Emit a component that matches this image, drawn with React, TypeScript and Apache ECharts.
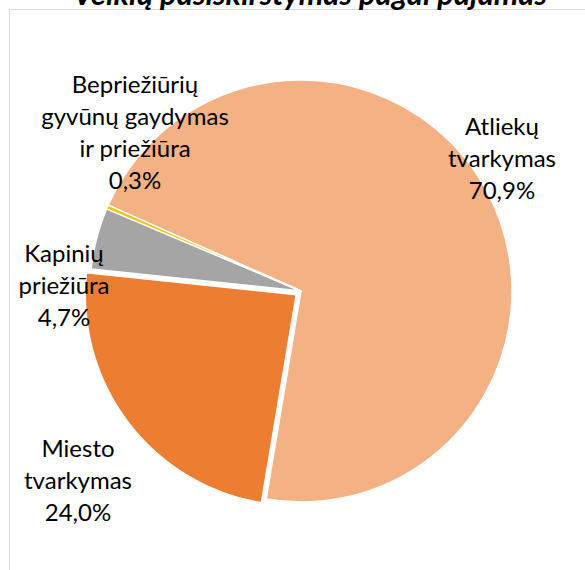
import React, { useEffect, useRef } from "react";
import * as echarts from "echarts";

const TITLE = "Veiklų pasiskirstymas pagal pajamas";
const CATEGORIES = [
  "Atliekų tvarkymas",
  "Miesto tvarkymas",
  "Kapinių priežiūra",
  "Bepriežiūrių gyvūnų gaydymas ir priežiūra",
];
const LABEL_LINES = [
  "Atliekų\ntvarkymas",
  "Miesto\ntvarkymas",
  "Kapinių\npriežiūra",
  "Bepriežiūrių\ngyvūnų gaydymas\nir priežiūra",
];
const PERCENTS = [70.9, 24.0, 4.7, 0.3];
const COLORS = ["#F4B183", "#ED7D31", "#A5A5A5", "#FFC000"];
const EXPLODED = [false, true, false, false];

// label anchor centres (x, y) in px
const LABEL_POS: [number, number][] = [
  [502, 157],
  [78, 479],
  [64, 284],
  [135, 131],
];

const CENTER: [number, number] = [301, 291];
const RADIUS = 211;
const START = 156;
const EXPLODE_OFFSET = 6;

export default function App() {
  const ref = useRef<HTMLDivElement>(null);
  useEffect(() => {
    if (!ref.current) return;
    const chart = echarts.init(ref.current, null, { renderer: "svg" });
    const total = PERCENTS.reduce((a, b) => a + b, 0);
    const clear = "rgba(0,0,0,0)";

    // exploded-slice centre computed from its mid angle
    let acc = 0;
    const mids = PERCENTS.map((v) => {
      const m = START - ((acc + v / 2) / total) * 360;
      acc += v;
      return (m * Math.PI) / 180;
    });
    const series: any[] = [
      {
        type: "pie",
        center: CENTER,
        radius: RADIUS,
        startAngle: START,
        clockwise: true,
        emphasis: { disabled: true },
        label: {
          show: true,
          position: "inside",
          overflow: "none",
          fontFamily: "Lato",
          fontSize: 24,
          lineHeight: 32,
          color: "#000000",
          align: "center",
          formatter: (p: any) =>
            LABEL_LINES[p.dataIndex] +
            "\n" +
            PERCENTS[p.dataIndex].toFixed(1).replace(".", ",") +
            "%",
        },
        labelLine: { show: false },
        labelLayout: (p: any) => {
          const pos = LABEL_POS[p.dataIndex];
          return { x: pos[0], y: pos[1], align: "center", verticalAlign: "middle" };
        },
        data: CATEGORIES.map((name, i) => ({
          name,
          value: PERCENTS[i],
          itemStyle: EXPLODED[i]
            ? { color: clear, borderWidth: 0 }
            : { color: COLORS[i], borderColor: "#ffffff", borderWidth: 1.5 },
        })),
        z: 2,
      },
    ];
    PERCENTS.forEach((_, k) => {
      if (!EXPLODED[k]) return;
      series.push({
        type: "pie",
        center: [
          CENTER[0] + Math.cos(mids[k]) * EXPLODE_OFFSET,
          CENTER[1] - Math.sin(mids[k]) * EXPLODE_OFFSET,
        ],
        radius: RADIUS,
        startAngle: START,
        clockwise: true,
        silent: true,
        emphasis: { disabled: true },
        label: { show: false },
        labelLine: { show: false },
        data: CATEGORIES.map((name, i) => ({
          name,
          value: PERCENTS[i],
          itemStyle:
            i === k
              ? { color: COLORS[i], borderColor: "#ffffff", borderWidth: 1.5 }
              : { color: clear, borderWidth: 0 },
        })),
        z: 1,
      });
    });

    chart.setOption({
      animation: false,
      backgroundColor: "#ffffff",
      title: {
        text: TITLE,
        left: 68,
        top: -28,
        textStyle: {
          fontFamily: "Lato",
          fontWeight: "bold",
          fontStyle: "italic",
          fontSize: 31,
          color: "#000000",
        },
      },
      graphic: [
        {
          type: "rect",
          shape: { x: 9.5, y: 9.5, width: 700, height: 700 },
          style: { fill: "none", stroke: "#d9d9d9", lineWidth: 1 },
          silent: true,
          z: -1,
        },
      ],
      series,
    });
    return () => chart.dispose();
  }, []);
  return (
    <div
      ref={ref}
      style={{ position: "absolute", left: 0, top: 0, width: 585, height: 570 }}
    />
  );
}
